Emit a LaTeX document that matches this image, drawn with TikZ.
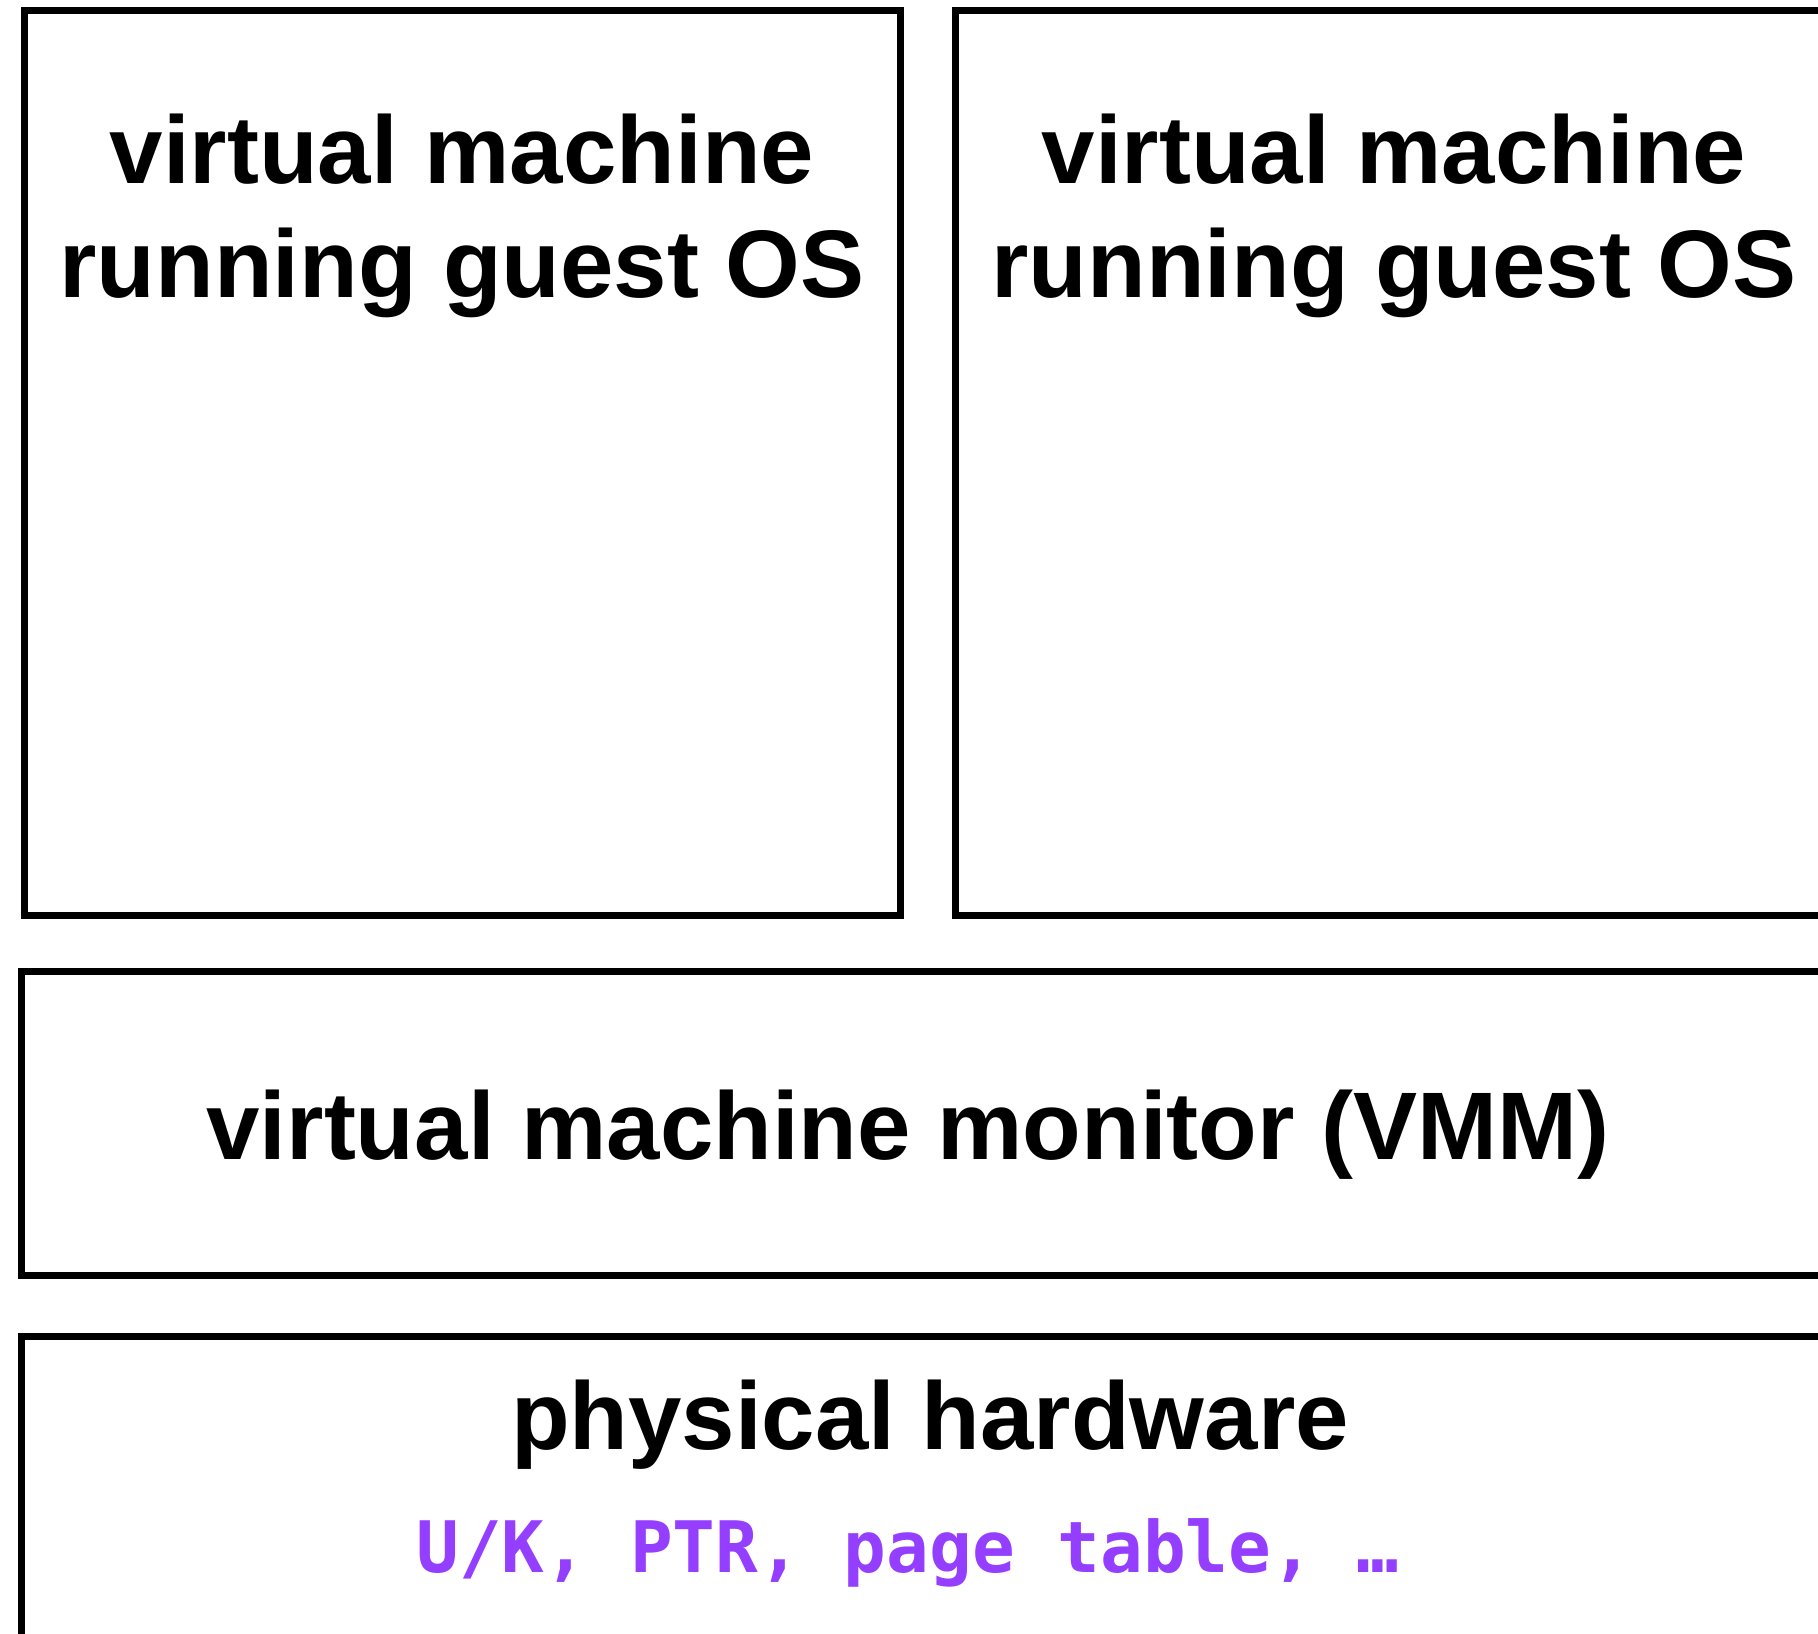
\documentclass[tikz,border=0pt]{standalone}
\usepackage{fontspec}
\setmainfont{Liberation Sans}
\newfontfamily\monob{DejaVu Sans Mono}
\definecolor{regpurple}{RGB}{148,62,255}
\begin{document}
\begin{tikzpicture}[x=0.5pt,y=-0.5pt,
  boxline/.style={draw=black,line width=3.5pt},
  bigtext/.style={inner sep=0pt,anchor=base,font=\fontsize{48pt}{57pt}\selectfont\bfseries},
  regtext/.style={inner sep=0pt,anchor=base,text=regpurple,font=\fontsize{35.5pt}{42pt}\selectfont\monob\bfseries}]
\useasboundingbox (0,0) rectangle (1818,1633);
\clip (0,0) rectangle (1818,1633);
% boxes
\draw[boxline] (24.5,10.5) rectangle (900,915.5);
\draw[boxline] (955,10.5) rectangle (1831,915.5);
\draw[boxline] (21,971.5) rectangle (1832,1275.5);
\draw[boxline] (21,1336) rectangle (1832,1700);
% texts
\node[bigtext] (vmA1) at (462,183.3) {virtual machine};
\node[bigtext] (vmA2) at (462,297) {running guest OS};
\node[bigtext] (vmB1) at (1394,183.3) {virtual machine};
\node[bigtext] (vmB2) at (1394,297) {running guest OS};
\node[bigtext] (vmm) at (908,1159) {virtual machine monitor (VMM)};
\node[bigtext] (hw) at (930,1449) {physical hardware};
\node[regtext] (regs) at (908,1572) {U/K, PTR, page table, …};
\end{tikzpicture}
\end{document}
